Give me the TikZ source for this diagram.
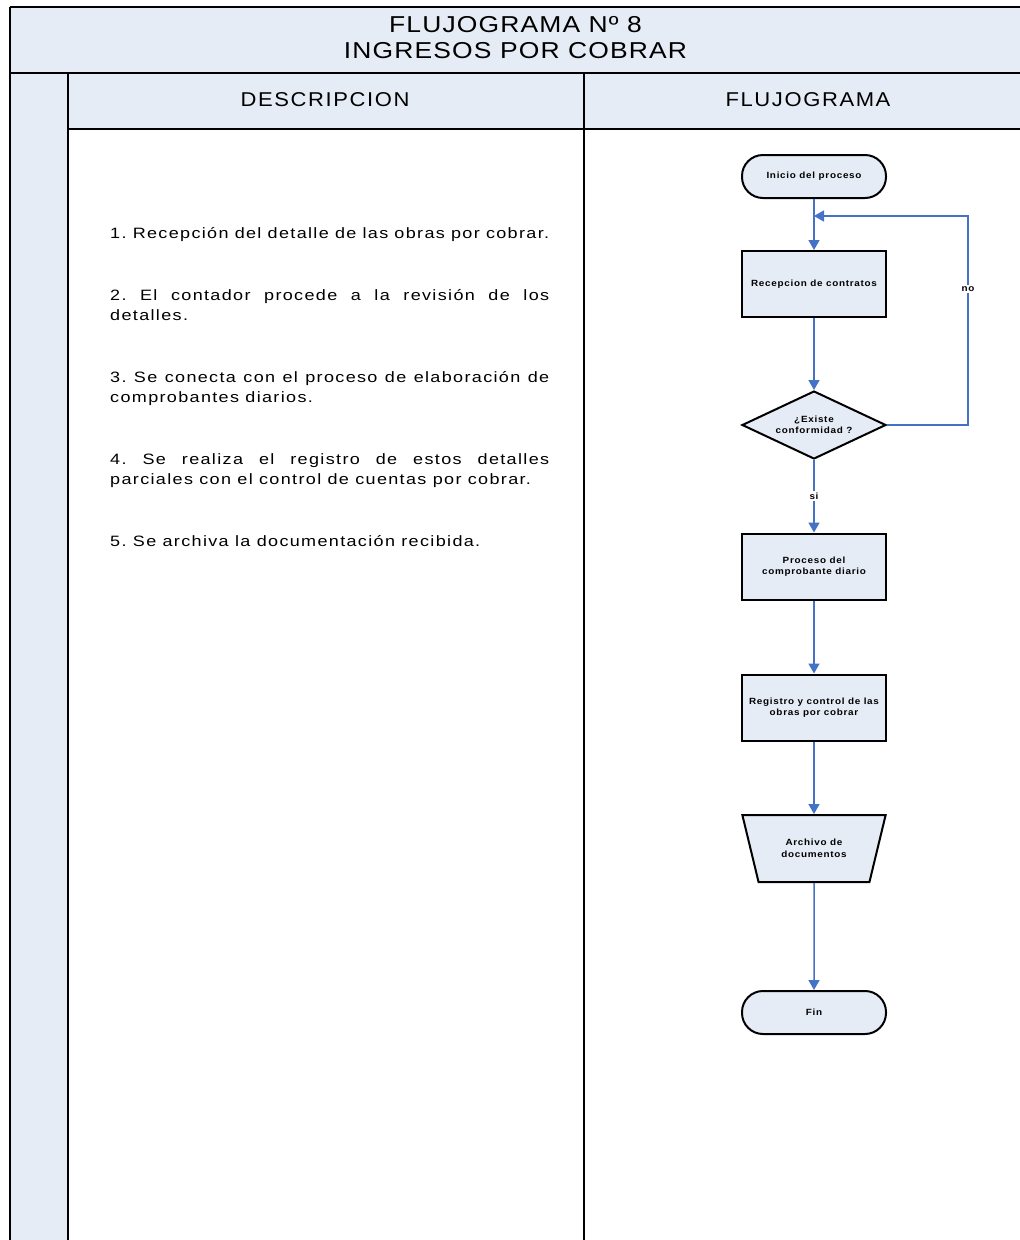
\documentclass[tikz,border=0pt]{standalone}
\usepackage{fontspec}
\setmainfont{Liberation Sans}
\newfontfamily\titlefont[FakeStretch=1.15,LetterSpace=5]{Liberation Sans}
\newfontfamily\headfont[FakeStretch=1.1,LetterSpace=8]{Liberation Sans}
\newfontfamily\descfont[FakeStretch=1.2,LetterSpace=9]{Liberation Sans}
\newfontfamily\boxfont[FakeStretch=1.1,LetterSpace=8]{Liberation Sans}
\usetikzlibrary{shapes.geometric,arrows.meta}
\definecolor{paneblue}{HTML}{E6ECF6}
\definecolor{flowblue}{HTML}{4472C4}
\tikzset{
  frame/.style={line width=2pt,draw=black},
  shapebox/.style={draw=black,line width=2pt,fill=paneblue,
    font=\boxfont\fontsize{9}{11.5}\selectfont\bfseries,align=center},
  terminal/.style={shapebox,rectangle,rounded corners=21pt,minimum width=144pt,minimum height=43pt},
  procbox/.style={shapebox,rectangle,minimum width=144pt,minimum height=66pt},
  decision/.style={shapebox,diamond,aspect=2.1,inner sep=0pt,minimum width=144pt,minimum height=68pt},
  archive/.style={shapebox,trapezium,shape border rotate=180,trapezium stretches=true,
    trapezium left angle=67,trapezium right angle=67,minimum width=144pt,minimum height=67pt},
  flow/.style={draw=flowblue,line width=1.5pt,-{Triangle[length=10pt,width=11pt]}},
  lbl/.style={fill=white,inner sep=1.5pt,font=\boxfont\fontsize{9}{10}\selectfont\bfseries},
  desc/.style={anchor=north west,inner sep=0pt,text width=439pt,align=justify,
    font=\descfont\fontsize{15}{20}\selectfont\frenchspacing},
}
\begin{document}
\begin{tikzpicture}[x=1pt,y=-1pt]
\useasboundingbox (0,0) rectangle (1020,1240);
% panes
\fill[paneblue] (10,7) rectangle (1020,73);
\fill[paneblue] (10,73) rectangle (68,1240);
\fill[paneblue] (68,73) rectangle (1020,129);
% grid lines
\draw[frame] (10,7) -- (1020,7);
\draw[frame] (10,73) -- (1020,73);
\draw[frame] (68,129) -- (1020,129);
\draw[frame] (10,7) -- (10,1240);
\draw[frame] (68,73) -- (68,1240);
\draw[frame] (584,73) -- (584,1240);
% titles
\node[font=\titlefont\fontsize{23}{26}\selectfont,align=center] (title) at (515.5,37.5)
  {FLUJOGRAMA Nº 8\\INGRESOS POR COBRAR};
\node[font=\headfont\fontsize{20}{22}\selectfont] (hdesc) at (325,100) {DESCRIPCION};
\node[font=\headfont\fontsize{20}{22}\selectfont] (hflow) at (808,100) {FLUJOGRAMA};
% description
\node[desc] (d1) at (110,227) {1. Recepción del detalle de las obras por cobrar.};
\node[desc] (d2) at (110,289) {2. El contador procede a la revisión de los\linebreak detalles.};
\node[desc] (d3) at (110,371) {3. Se conecta con el proceso de elaboración de\linebreak comprobantes diarios.};
\node[desc] (d4) at (110,453) {4. Se realiza el registro de estos detalles\linebreak parciales con el control de cuentas por cobrar.};
\node[desc] (d5) at (110,535) {5. Se archiva la documentación recibida.};
% flowchart
\node[terminal] (start) at (814,176.5) {Inicio del proceso};
\node[procbox] (recep) at (814,284) {Recepcion de contratos};
\node[decision] (dec) at (814,425) {¿Existe\\conformidad ?};
\node[procbox] (proc) at (814,566.5) {Proceso del\\comprobante diario};
\node[procbox] (reg) at (814,707.5) {Registro y control de las\\obras por cobrar};
\node[archive] (arch) at (814,848.5) {Archivo de\\documentos};
\node[terminal] (fin) at (814,1012.5) {Fin};
\coordinate (join) at (814,216);
\coordinate (loopA) at (968,425);
\coordinate (loopB) at (968,216);
\draw[flow] (start) -- (recep);
\draw[flow] (recep) -- (dec);
\draw[flow] (dec.east) -- (loopA) -- node[lbl,pos=0.65] {no} (loopB) -- (join);
\draw[flow] (dec) -- node[lbl] {si} (proc);
\draw[flow] (proc) -- (reg);
\draw[flow] (reg) -- (arch);
\draw[flow] (arch) -- (fin);
\end{tikzpicture}
\end{document}
